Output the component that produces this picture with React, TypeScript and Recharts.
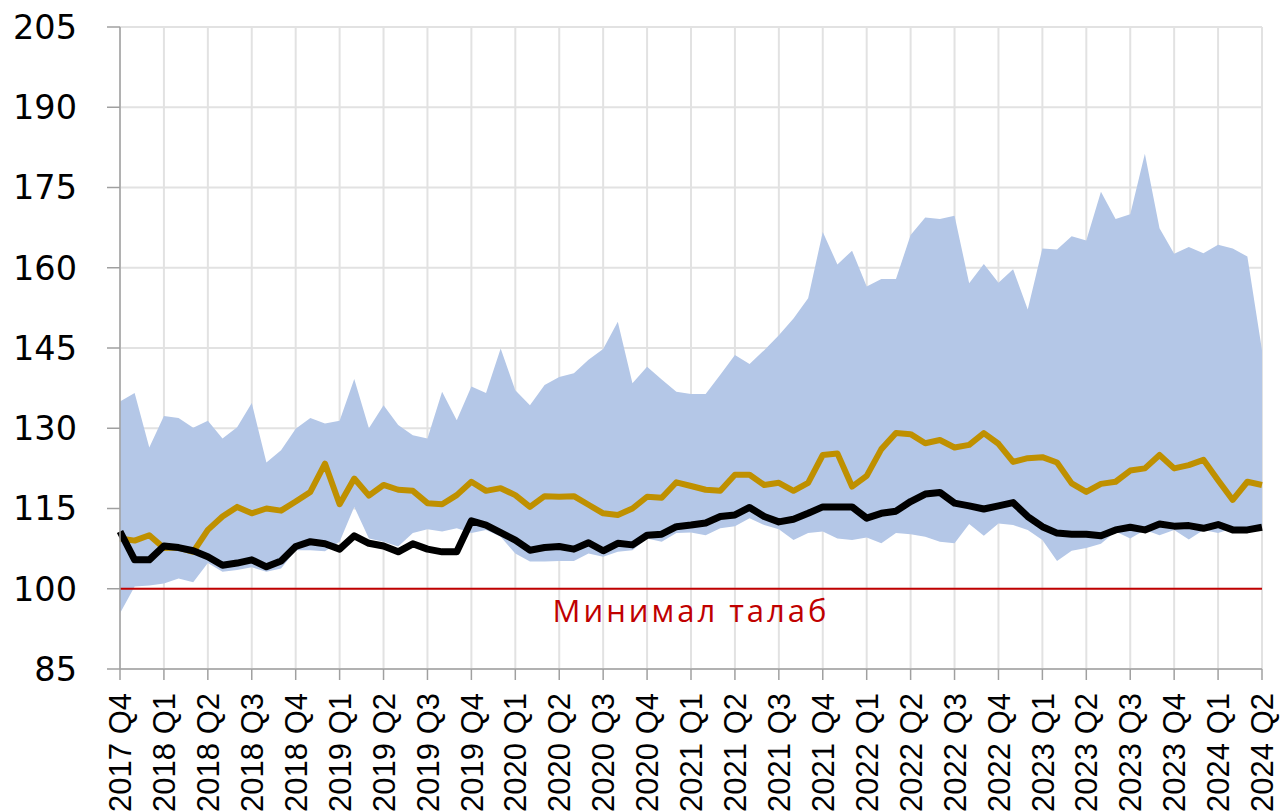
import {
  ComposedChart,
  Area,
  Line,
  XAxis,
  YAxis,
  CartesianGrid,
  ReferenceLine,
} from "recharts";

// quarter labels, one every 3 monthly points
const quarterLabels = [
  "2017 Q4", "2018 Q1", "2018 Q2", "2018 Q3", "2018 Q4",
  "2019 Q1", "2019 Q2", "2019 Q3", "2019 Q4",
  "2020 Q1", "2020 Q2", "2020 Q3", "2020 Q4",
  "2021 Q1", "2021 Q2", "2021 Q3", "2021 Q4",
  "2022 Q1", "2022 Q2", "2022 Q3", "2022 Q4",
  "2023 Q1", "2023 Q2", "2023 Q3", "2023 Q4",
  "2024 Q1", "2024 Q2",
];

// range band (max / min)
const bandHigh = [
  135.0, 136.6, 126.4, 132.3, 131.9, 130.1, 131.4, 128.1, 130.2, 134.7,
  123.6, 125.9, 129.9, 131.9, 130.9, 131.4, 139.2, 130.0, 134.3, 130.6,
  128.7, 128.1, 136.8, 131.5, 137.8, 136.6, 144.9, 137.1, 134.3, 138.1,
  139.6, 140.3, 142.8, 144.8, 149.9, 138.4, 141.5, 139.1, 136.8, 136.4,
  136.4, 140.0, 143.7, 142.0, 144.6, 147.4, 150.5, 154.3, 166.7, 160.6,
  163.2, 156.5, 157.9, 157.9, 166.1, 169.4, 169.1, 169.7, 157.1, 160.7,
  157.2, 159.7, 152.2, 163.6, 163.4, 165.9, 165.1, 174.2, 169.1, 170.0,
  181.3, 167.4, 162.6, 163.9, 162.7, 164.3, 163.6, 162.1, 144.6,
];

const bandLow = [
  95.4, 100.4, 100.6, 101.0, 101.9, 101.2, 104.8, 103.2, 103.5, 104.0,
  103.2, 103.8, 107.2, 107.2, 107.0, 108.8, 115.3, 109.4, 108.8, 107.9,
  110.4, 111.1, 110.7, 111.3, 110.4, 111.0, 109.7, 106.6, 105.1, 105.1,
  105.2, 105.2, 106.6, 106.0, 106.9, 107.2, 109.4, 108.8, 110.4, 110.5,
  110.0, 111.3, 111.7, 113.2, 111.9, 111.1, 109.1, 110.4, 110.7, 109.4,
  109.1, 109.6, 108.5, 110.4, 110.2, 109.7, 108.8, 108.5, 112.1, 109.9,
  112.2, 111.9, 111.0, 109.1, 105.2, 107.1, 107.6, 108.4, 110.7, 109.4,
  111.0, 110.0, 111.0, 109.2, 111.0, 110.4, 111.3, 111.2, 111.3,
];

const blackSeries = [
  110.7, 105.4, 105.4, 108.0, 107.7, 107.1, 106.0, 104.4, 104.8, 105.4,
  104.1, 105.2, 107.9, 108.8, 108.4, 107.4, 109.9, 108.5, 108.0, 106.9,
  108.4, 107.4, 106.9, 106.9, 112.7, 111.9, 110.5, 109.1, 107.2, 107.7,
  107.9, 107.4, 108.6, 107.1, 108.5, 108.2, 110.0, 110.2, 111.6, 111.9,
  112.3, 113.5, 113.8, 115.2, 113.5, 112.5, 113.0, 114.1, 115.3, 115.3,
  115.3, 113.2, 114.1, 114.5, 116.3, 117.7, 118.0, 116.0, 115.5, 114.9,
  115.5, 116.1, 113.5, 111.6, 110.4, 110.2, 110.2, 109.9, 111.0, 111.5,
  111.0, 112.1, 111.7, 111.8, 111.3, 112.0, 111.0, 111.0, 111.5,
];

const goldSeries = [
  109.4, 109.0, 110.0, 107.6, 107.7, 106.9, 111.0, 113.5, 115.3, 114.1,
  115.0, 114.6, 116.3, 118.1, 123.4, 115.8, 120.6, 117.4, 119.4, 118.5,
  118.3, 116.0, 115.8, 117.5, 120.0, 118.3, 118.8, 117.5, 115.3, 117.3,
  117.2, 117.3, 115.7, 114.1, 113.8, 115.0, 117.2, 117.0, 119.9, 119.2,
  118.5, 118.3, 121.3, 121.3, 119.4, 119.8, 118.3, 119.8, 125.0, 125.3,
  119.1, 121.1, 126.1, 129.1, 128.9, 127.2, 127.8, 126.4, 126.9, 129.1,
  127.1, 123.7, 124.4, 124.6, 123.6, 119.7, 118.1, 119.6, 120.0, 122.1,
  122.5, 125.0, 122.5, 123.1, 124.1, 120.3, 116.6, 120.0, 119.4,
];

const yTicks = [85, 100, 115, 130, 145, 160, 175, 190, 205];
const minimumRequirement = 100;
const minimumLabel = "Минимал талаб";

const data = bandHigh.map((high, i) => ({
  idx: i,
  band: [bandLow[i], high],
  black: blackSeries[i],
  gold: goldSeries[i],
}));

const xTicks = quarterLabels.map((_, k) => k * 3);

function QuarterTick({ x, y, payload }: any) {
  return (
    <g transform={`translate(${x},${y})`}>
      <text
        transform="rotate(-90)"
        textAnchor="end"
        dy="0.36em"
        fontSize={31}
        fontFamily="'Liberation Sans', Arial, sans-serif"
        fill="#000"
      >
        {quarterLabels[Math.round(payload.value / 3)]}
      </text>
    </g>
  );
}

export default function App() {
  return (
    <div
      style={{
        position: "absolute",
        left: 0,
        top: 0,
        width: 1285,
        height: 811,
        overflow: "hidden",
        background: "#fff",
      }}
    >
      <ComposedChart
        width={1285}
        height={811}
        data={data}
        margin={{ top: 27, right: 23, left: 0, bottom: 0 }}
      >
        <CartesianGrid stroke="#e2e2e2" strokeWidth={2} />

        <XAxis
          dataKey="idx"
          type="number"
          domain={[0, 78]}
          ticks={xTicks}
          interval={0}
          height={142}
          tickSize={11}
          tickMargin={13}
          tick={<QuarterTick />}
          stroke="#a0a0a0"
          strokeWidth={1.5}
        />

        <YAxis
          type="number"
          domain={[85, 205]}
          ticks={yTicks}
          interval={0}
          width={120}
          tickSize={13}
          tickMargin={30}
          stroke="#a0a0a0"
          strokeWidth={1.5}
          tick={{
            fill: "#000",
            fontSize: 33.5,
            fontFamily: "'DejaVu Sans', sans-serif",
          }}
        />

        <Area
          type="linear"
          dataKey="band"
          fill="#b4c7e7"
          fillOpacity={1}
          stroke="none"
          isAnimationActive={false}
        />

        <ReferenceLine
          y={minimumRequirement}
          stroke="#c00000"
          strokeWidth={2}
          label={{
            value: minimumLabel,
            position: "bottom",
            offset: 11,
            fill: "#c00000",
            fontSize: 31,
            letterSpacing: 3,
            fontFamily: "'Open Sans', sans-serif",
          }}
        />

        <Line
          type="linear"
          dataKey="gold"
          stroke="#bf9000"
          strokeWidth={6}
          strokeLinejoin="round"
          dot={false}
          isAnimationActive={false}
        />

        <Line
          type="linear"
          dataKey="black"
          stroke="#000"
          strokeWidth={7}
          strokeLinejoin="round"
          dot={false}
          isAnimationActive={false}
        />
      </ComposedChart>
    </div>
  );
}
